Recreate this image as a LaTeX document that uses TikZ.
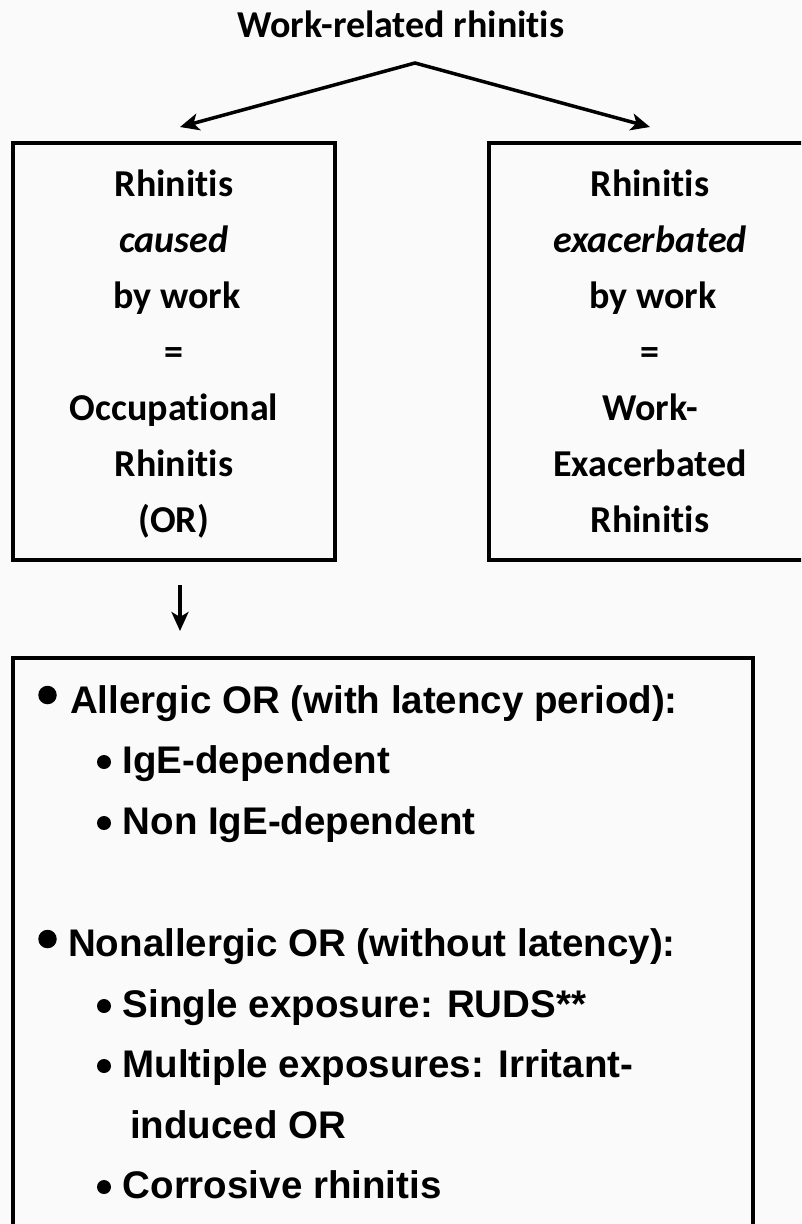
\documentclass[tikz,border=0pt]{standalone}
\usepackage{fontspec}
\setmainfont[Ligatures={CommonOff,ContextualOff}]{Carlito}
\newfontfamily\arialfont[Ligatures={CommonOff,ContextualOff}]{Liberation Sans}
\usetikzlibrary{arrows.meta}
\definecolor{bgc}{RGB}{250,250,250}
\begin{document}
\begin{tikzpicture}[x=1pt,y=-1pt,
  box/.style={draw, line width=4pt, inner sep=0pt, rectangle},
  ctext/.style={font=\bfseries\fontsize{38}{44}\selectfont, anchor=base, inner sep=0pt},
  ltext/.style={font=\arialfont\bfseries\fontsize{38.5}{44}\selectfont, anchor=base west, inner sep=0pt},
  arrtip/.tip={Stealth[length=19pt,width=17pt,inset=5pt]},
  arr/.style={line width=3.5pt, line join=miter, -arrtip},
  arrboth/.style={line width=3.5pt, line join=miter, arrtip-arrtip},
  bigdot/.style={circle, fill, inner sep=0pt, minimum size=18.5pt},
  smalldot/.style={circle, fill, inner sep=0pt, minimum size=14pt}]
\useasboundingbox (0,0) rectangle (801,1224);
\clip (0,0) rectangle (801,1224);
\fill[bgc] (0,0) rectangle (801,1224);

% title
\node[ctext] (title) at (401,37) {Work-related rhinitis};

% boxes
\node[box, minimum width=322pt, minimum height=417pt] (lbox) at (174,351.5) {};
\node[box, minimum width=322pt, minimum height=417pt] (rbox) at (650,351.5) {};
\node[box, minimum width=740pt, minimum height=612pt] (bbox) at (383,964) {};

% left box text
\node[ctext] (l1) at (174,196) {Rhinitis};
\node[ctext] (l2) at (174,252) {\textit{caused}};
\node[ctext] (l3) at (177,308) {by work};
\node[ctext] (l4) at (174,364) {=};
\node[ctext] (l5) at (174,420) {Occupational};
\node[ctext] (l6) at (174,476) {Rhinitis};
\node[ctext] (l7) at (174,532) {(OR)};

% right box text
\node[ctext] (r1) at (650,196) {Rhinitis};
\node[ctext] (r2) at (650,252) {\textit{exacerbated}};
\node[ctext] (r3) at (653,308) {by work};
\node[ctext] (r4) at (650,364) {=};
\node[ctext] (r5) at (650,420) {Work-};
\node[ctext] (r6) at (650,476) {Exacerbated};
\node[ctext] (r7) at (650,532) {Rhinitis};

% arrows
\coordinate (apex) at (415,63);
\coordinate (tipL) at (180,127);
\coordinate (tipR) at (650,127);
\draw[arrboth] (tipL) -- (apex) -- (tipR);
\coordinate (dA) at (180,585);
\coordinate (dB) at (180,631);
\draw[arr] (dA) -- (dB);

% bullet list
\node[bigdot] (d1) at (47.5,695) {};
\node[ltext] (t1) at (70,713) {Allergic OR (with latency period):};
\node[smalldot] (d2) at (104,762) {};
\node[ltext] (t2) at (122.5,773) {IgE-dependent};
\node[smalldot] (d3) at (104,823) {};
\node[ltext] (t3) at (122.5,834) {Non IgE-dependent};
\node[bigdot] (d4) at (47.5,939) {};
\node[ltext] (t4) at (68,956) {Nonallergic OR (without latency):};
\node[smalldot] (d5) at (104,1006) {};
\node[ltext] (t5) at (122.5,1017) {Single exposure: RUDS**};
\node[smalldot] (d6) at (104,1066) {};
\node[ltext] (t6) at (122.5,1077) {Multiple exposures: Irritant-};
\node[ltext] (t7) at (130,1138) {induced OR};
\node[smalldot] (d8) at (104,1187) {};
\node[ltext] (t8) at (122.5,1198) {Corrosive rhinitis};
\end{tikzpicture}
\end{document}
